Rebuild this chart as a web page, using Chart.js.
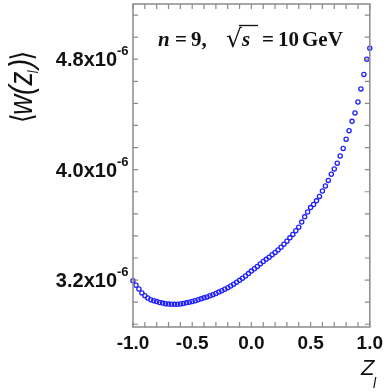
<!DOCTYPE html>
<html lang="en">
<head>
    <meta charset="UTF-8">
    <title>w(z_l) n=9</title>
    <script src="https://cdn.jsdelivr.net/npm/chart.js"></script>
    <style>
        html, body { margin: 0; padding: 0; background: #fff; }
        #box { width: 388px; height: 392px; }
    </style>
</head>
<body>
    <div id="box"><canvas id="grafico"></canvas></div>

<script>
    // z_l values (x) and <w(z_l)> in units of 1e-6 (y)
    const zValues = [
        -1.000, -0.975, -0.950, -0.925, -0.900, -0.875, -0.850, -0.825, -0.800, -0.775,
        -0.750, -0.725, -0.700, -0.675, -0.650, -0.625, -0.600, -0.575, -0.550, -0.525,
        -0.500, -0.475, -0.450, -0.425, -0.400, -0.375, -0.350, -0.325, -0.300, -0.275,
        -0.250, -0.225, -0.200, -0.175, -0.150, -0.125, -0.100, -0.075, -0.050, -0.025,
         0.000,  0.025,  0.050,  0.075,  0.100,  0.125,  0.150,  0.175,  0.200,  0.225,
         0.250,  0.275,  0.300,  0.325,  0.350,  0.375,  0.400,  0.425,  0.450,  0.475,
         0.500,  0.525,  0.550,  0.575,  0.600,  0.625,  0.650,  0.675,  0.700,  0.725,
         0.750,  0.775,  0.800,  0.825,  0.850,  0.875,  0.900,  0.925,  0.950,  0.975,
         1.000
    ];
    const wValues = [
        3.195, 3.163, 3.135, 3.107, 3.087, 3.070, 3.058, 3.050, 3.044, 3.038,
        3.033, 3.029, 3.026, 3.025, 3.024, 3.025, 3.027, 3.031, 3.035, 3.040,
        3.045, 3.051, 3.057, 3.064, 3.071, 3.078, 3.086, 3.094, 3.103, 3.113,
        3.123, 3.134, 3.145, 3.157, 3.170, 3.184, 3.198, 3.213, 3.229, 3.247,
        3.265, 3.282, 3.299, 3.317, 3.335, 3.350, 3.366, 3.383, 3.400, 3.418,
        3.438, 3.459, 3.482, 3.506, 3.531, 3.557, 3.583, 3.620, 3.658, 3.693,
        3.725, 3.748, 3.774, 3.806, 3.845, 3.882, 3.922, 3.967, 4.005, 4.047,
        4.099, 4.153, 4.221, 4.282, 4.350, 4.410, 4.490, 4.585, 4.690, 4.800,
        4.880
    ];

    // ticks
    const xTickLabels = ['-1.0', '-0.5', '0.0', '0.5', '1.0'];
    const yMajorTicks = [3.2, 4.0, 4.8];
    const yTickLabels = ['3.2x10', '4.0x10', '4.8x10'];
    const yTickExponent = '-6';
    const yAllTicks = [2.88, 3.04, 3.2, 3.36, 3.52, 3.68, 3.84, 4.0, 4.16, 4.32, 4.48, 4.64, 4.8, 4.96, 5.12];

    const corEixo = '#8a8a8a';
    const corPonto = '#1f1fff';
    const serifBold = 'bold 21px "Liberation Serif", "Times New Roman", serif';
    const serifBoldItalic = 'bold italic 21px "Liberation Serif", "Times New Roman", serif';

    // frame, inward ticks and the texts with sub/superscripts
    const molduraPlugin = {
        id: 'moldura',
        afterDraw(chart) {
            const c = chart.ctx;
            const a = chart.chartArea;
            const sx = chart.scales.x;
            const sy = chart.scales.y;
            const tam = 5;

            c.save();
            c.strokeStyle = corEixo;
            c.lineWidth = 1.5;
            c.strokeRect(a.left, a.top, a.right - a.left, a.bottom - a.top);

            c.lineWidth = 1.2;
            c.beginPath();
            sx.ticks.forEach(t => {
                const px = sx.getPixelForValue(t.value);
                c.moveTo(px, a.bottom); c.lineTo(px, a.bottom - tam);
                c.moveTo(px, a.top); c.lineTo(px, a.top + tam);
            });
            sy.ticks.forEach(t => {
                const py = sy.getPixelForValue(t.value);
                c.moveTo(a.left, py); c.lineTo(a.left + tam, py);
                c.moveTo(a.right, py); c.lineTo(a.right - tam, py);
            });
            c.stroke();

            // y labels: 3.2x10^-6
            c.fillStyle = '#111';
            yMajorTicks.forEach((v, i) => {
                const py = sy.getPixelForValue(v);
                c.font = 'bold 20px "Liberation Sans", Arial, sans-serif';
                c.textAlign = 'right';
                c.textBaseline = 'alphabetic';
                c.fillText(yTickLabels[i], 117, py + 7);
                c.font = 'bold 13px "Liberation Sans", Arial, sans-serif';
                c.textAlign = 'left';
                c.fillText(yTickExponent, 117, py - 4);
            });

            // y title <w(z_l)>
            c.save();
            c.translate(32, 123);
            c.rotate(-Math.PI / 2);
            c.scale(0.82, 1);
            c.textAlign = 'left';
            c.textBaseline = 'alphabetic';
            let px = 0;
            c.font = '30px "DejaVu Sans", sans-serif';
            c.fillText('\u27E8', px, 0);
            px += c.measureText('\u27E8').width - 2;
            c.font = 'italic 34px "Liberation Sans", Arial, sans-serif';
            c.fillText('w(z', px, 0);
            px += c.measureText('w(z').width - 2;
            c.font = 'italic 15px "Liberation Sans", Arial, sans-serif';
            c.fillText('l', px, 6);
            px += c.measureText('l').width + 3;
            c.font = 'italic 34px "Liberation Sans", Arial, sans-serif';
            c.fillText(')', px, 0);
            px += c.measureText(')').width - 2;
            c.font = '30px "DejaVu Sans", sans-serif';
            c.fillText('\u27E9', px, 0);
            c.restore();

            // x title Z_l
            c.font = 'italic 22px "Liberation Sans", Arial, sans-serif';
            c.textAlign = 'left';
            c.fillText('Z', 361, 375);
            c.font = 'italic 14px "Liberation Sans", Arial, sans-serif';
            c.fillText('l', 373, 388);

            // annotation n = 9,  sqrt(s) = 10 GeV
            const base = 46;
            c.font = serifBoldItalic;
            c.fillText('n', 158, base);
            c.font = serifBold;
            c.fillText('=', 175, base);
            c.fillText('9,', 191, base);
            c.font = '25px "DejaVu Sans", sans-serif';
            c.fillText('\u221A', 226, base + 1);
            c.font = serifBoldItalic;
            c.fillText('s', 242, base);
            c.strokeStyle = '#111';
            c.lineWidth = 1.3;
            c.beginPath();
            c.moveTo(239, 25.5); c.lineTo(258, 25.5);
            c.stroke();
            c.font = serifBold;
            c.fillText('=', 262, base);
            c.fillText('10', 278, base);
            c.fillText('GeV', 302, base);
            c.restore();
        }
    };

    const ctx = document.getElementById('grafico').getContext('2d');

    new Chart(ctx, {
        type: 'scatter',
        data: {
            datasets: [{
                data: zValues.map((z, i) => ({ x: z, y: wValues[i] })),
                borderColor: corPonto,
                backgroundColor: 'rgba(255,255,255,0)',
                borderWidth: 1.3,
                pointRadius: 2.1,
                pointHoverRadius: 2.1,
                clip: false
            }]
        },
        options: {
            responsive: true,
            maintainAspectRatio: false,
            animation: false,
            events: [],
            layout: { padding: { left: 0, right: 17, top: 4, bottom: 0 } },
            plugins: {
                legend: { display: false },
                tooltip: { enabled: false }
            },
            scales: {
                x: {
                    type: 'linear',
                    min: -1,
                    max: 1,
                    grid: { display: false, drawTicks: false },
                    border: { display: false },
                    ticks: {
                        stepSize: 0.1,
                        autoSkip: false,
                        maxRotation: 0,
                        padding: 5,
                        color: '#111',
                        font: { family: '"Liberation Sans", Arial, sans-serif', size: 19, weight: 'bold' },
                        callback: function (v) {
                            const k = Math.round((v + 1) / 0.5 * 1000) / 1000;
                            return Number.isInteger(k) ? xTickLabels[k] : '';
                        }
                    },
                    afterFit: function (s) { s.height = 65; }
                },
                y: {
                    type: 'linear',
                    min: 2.86,
                    max: 5.2,
                    grid: { display: false, drawTicks: false },
                    border: { display: false },
                    ticks: { display: false },
                    afterBuildTicks: function (s) { s.ticks = yAllTicks.map(v => ({ value: v })); },
                    afterFit: function (s) { s.width = 133; }
                }
            }
        },
        plugins: [molduraPlugin]
    });
</script>
</body>
</html>
